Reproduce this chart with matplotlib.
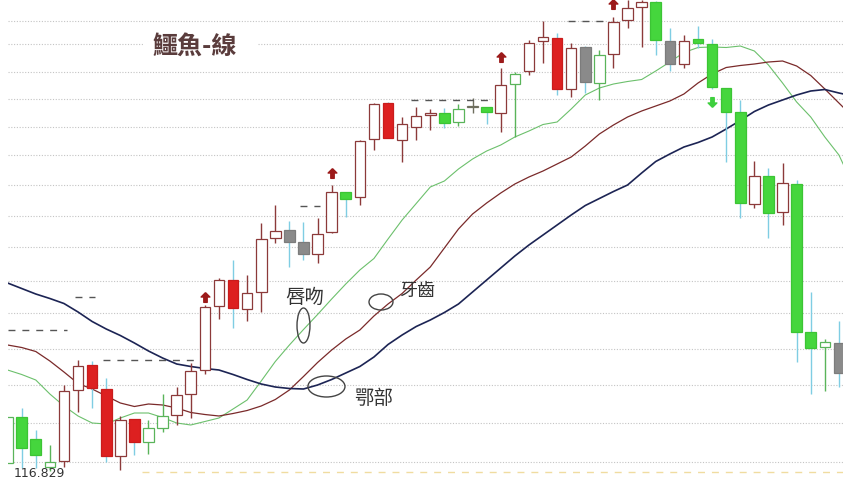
import matplotlib
matplotlib.use("Agg")
import matplotlib.pyplot as plt
import numpy as np
from matplotlib.patches import Ellipse, Rectangle
from matplotlib.path import Path

plt.rcParams['font.family'] = ['Noto Sans CJK TC', 'DejaVu Sans']

# --- candle data (price), one entry per bar ---
opens = [117.63, 122.23, 120.03, 117.23, 117.83, 124.93, 127.43, 125.03, 118.33, 122.03,
         119.73, 121.13, 122.43, 124.53, 126.93, 133.33, 135.93, 133.03, 134.73, 140.13,
         140.93, 139.73, 138.53, 140.73, 144.73, 144.23, 150.03, 153.63, 149.93, 151.23,
         152.43, 152.63, 151.73, 153.23, 153.23, 152.63, 155.53, 156.83, 159.83, 160.13,
         155.03, 159.23, 155.63, 158.53, 161.93, 163.23, 163.73, 159.83, 157.53, 160.03,
         159.53, 155.13, 152.73, 143.53, 146.33, 142.73, 145.53, 130.73, 129.23, 129.63]
highs = [122.23, 123.13, 120.93, 119.43, 125.43, 127.93, 127.83, 126.13, 122.33, 122.03,
         121.93, 124.53, 125.23, 127.63, 133.43, 136.13, 137.93, 136.43, 141.63, 143.43,
         141.83, 141.73, 142.13, 145.43, 144.73, 149.93, 153.63, 153.73, 152.23, 153.23,
         153.03, 153.13, 153.53, 154.13, 153.23, 157.13, 156.73, 159.93, 161.83, 160.63,
         159.63, 159.33, 158.93, 162.23, 163.93, 163.93, 163.83, 161.13, 160.43, 161.33,
         160.03, 155.13, 153.93, 147.83, 147.13, 147.63, 145.93, 134.73, 130.03, 131.83]
lows = [117.63, 117.13, 117.13, 116.83, 117.23, 122.73, 123.13, 117.73, 116.93, 118.43,
        118.53, 120.73, 121.43, 122.13, 126.53, 132.03, 131.13, 131.83, 132.73, 139.63,
        137.23, 137.93, 137.63, 140.63, 142.23, 143.43, 148.93, 150.13, 147.73, 149.93,
        150.93, 151.13, 151.33, 152.63, 151.53, 150.73, 150.23, 156.43, 157.63, 154.43,
        154.23, 154.63, 153.93, 157.13, 161.13, 159.23, 158.43, 156.83, 157.13, 159.13,
        155.03, 147.73, 142.13, 143.13, 140.13, 141.43, 127.73, 124.53, 124.83, 125.23]
closes = [122.23, 119.13, 118.43, 117.73, 124.83, 127.33, 125.13, 118.33, 121.93, 119.73,
          121.13, 122.33, 124.43, 126.83, 133.23, 135.93, 133.13, 134.63, 140.03, 140.83,
          139.73, 138.53, 140.53, 144.73, 144.03, 149.83, 153.53, 150.13, 151.53, 152.33,
          152.63, 151.63, 153.03, 153.23, 152.73, 155.43, 156.53, 159.63, 160.23, 155.03,
          159.13, 155.73, 158.43, 161.73, 163.13, 163.73, 159.93, 157.53, 159.83, 159.63,
          155.23, 152.73, 143.63, 146.33, 142.63, 145.63, 130.73, 129.13, 129.73, 126.63]
# G/R/K = filled green/red/gray, w/g/k = hollow with red/green/gray outline
styles = ['g', 'G', 'G', 'g', 'w', 'w', 'R', 'R', 'w', 'R',
          'g', 'g', 'w', 'w', 'w', 'w', 'R', 'w', 'w', 'w',
          'K', 'K', 'w', 'w', 'G', 'w', 'w', 'R', 'w', 'w',
          'w', 'G', 'g', 'k', 'G', 'w', 'g', 'w', 'w', 'R',
          'w', 'K', 'g', 'w', 'w', 'w', 'G', 'K', 'w', 'G',
          'G', 'G', 'G', 'w', 'G', 'w', 'G', 'G', 'g', 'K']

# --- alligator lines ---
jaw = [135.63, 135.08, 134.53, 134.08, 133.58, 132.73, 131.78, 131.03, 130.38, 129.63,
       128.83, 128.13, 127.53, 127.28, 127.08, 126.93, 126.48, 125.98, 125.53, 125.23,
       125.08, 125.03, 125.43, 125.98, 126.63, 127.28, 128.23, 129.48, 130.43, 131.28,
       131.93, 132.68, 133.53, 134.73, 135.93, 137.13, 138.33, 139.43, 140.43, 141.43,
       142.43, 143.38, 144.08, 144.78, 145.43, 146.63, 147.78, 148.53, 149.23, 149.68,
       150.23, 151.03, 151.88, 152.78, 153.43, 153.93, 154.43, 154.83, 154.98, 154.63, 154.33]
teeth = [129.43, 129.18, 128.78, 127.83, 126.73, 125.58, 125.03, 124.33, 123.63, 123.28,
         123.53, 123.43, 123.13, 122.68, 122.48, 122.33, 122.58, 122.88, 123.33, 123.98,
         124.93, 126.28, 127.68, 128.93, 130.03, 130.93, 132.33, 133.53, 134.58, 135.93,
         137.23, 139.13, 141.03, 142.53, 143.63, 144.63, 145.53, 146.23, 146.83, 147.53,
         148.23, 149.33, 150.53, 151.43, 152.23, 152.83, 153.33, 153.83, 154.53, 155.63,
         156.53, 157.18, 157.38, 157.53, 157.73, 157.83, 157.33, 156.38, 155.03, 153.63, 152.23]
lips = [126.93, 126.48, 125.93, 124.53, 123.33, 122.33, 121.63, 121.53, 122.13, 122.63,
        122.63, 122.18, 121.63, 121.43, 121.78, 122.13, 123.03, 123.93, 125.83, 127.78,
        129.43, 130.98, 132.48, 134.03, 135.53, 136.93, 138.08, 140.03, 141.93, 143.58,
        145.23, 145.83, 147.03, 148.03, 148.83, 149.43, 150.23, 150.83, 151.48, 151.73,
        153.03, 154.43, 155.13, 155.53, 155.78, 155.98, 156.83, 157.73, 158.68, 159.18,
        159.23, 159.18, 159.33, 158.83, 157.43, 155.63, 153.73, 152.23, 150.23, 148.43, 145.43]

grid_levels = [117.73, 121.63, 125.43, 129.03, 132.63, 135.83, 139.23, 142.33,
               145.43, 148.43, 151.23, 154.03, 156.73, 159.53, 161.83]

# fractal arrows
up_idx = [14, 23, 35, 43]
up_price = [134.28, 146.58, 158.18, 163.53]
down_idx = [50]
down_price = [153.73]

# short dashed fractal levels (price, from bar, to bar)
level_price = [134.23, 130.93, 127.93, 143.33, 153.93, 161.83]
level_start = [4.78, 0.05, 6.77, 20.75, 28.6, 39.8]
level_end = [6.20, 4.22, 13.44, 22.17, 34.1, 42.5]
low_label = "116.829"

face = {'G': '#45d63d', 'R': '#dd2020', 'K': '#8a8a8a', 'w': 'white', 'g': 'white', 'k': 'white'}
edge = {'G': '#3cc435', 'R': '#c91c1c', 'K': '#7c7c7c', 'w': '#8c3a3a', 'g': '#5ab45a', 'k': '#6e6e5e'}
wick = {'G': '#7fcde3', 'R': '#7fcde3', 'K': '#7fcde3', 'w': '#8c3a3a', 'g': '#5ab45a', 'k': '#6e6e5e'}

fig = plt.figure(figsize=(8.58, 4.82), dpi=100)
ax = fig.add_axes([8.3 / 858, 0, 834.7 / 858, 1])
ax.set_xlim(0.05, 59.29)
ax.set_ylim(115.73, 163.93)

# dotted grid
for g in grid_levels:
    ax.axhline(g, color='#c4c4c4', lw=0.8, ls=(0, (1, 1.5)), zorder=0)
ax.axhline(116.73, xmin=0.16, color='#f0dca0', lw=1, ls=(0, (5, 5)), zorder=0)

x = np.arange(len(opens))
xl = np.arange(len(jaw))
ax.plot(xl, lips, color='#6cc06c', lw=0.8, zorder=1)
ax.plot(xl, teeth, color='#7a2a2a', lw=0.9, zorder=1)
ax.plot(xl, jaw, color='#1c2454', lw=1.2, zorder=1)

ax.vlines(x, lows, highs, colors=[wick[s] for s in styles], lw=1, zorder=2)
o = np.array(opens)
c = np.array(closes)
bottoms = np.minimum(o, c)
heights = np.maximum(np.abs(c - o), 0.12)
ax.bar(x, heights, bottom=bottoms, width=0.75,
       color=[face[s] for s in styles], edgecolor=[edge[s] for s in styles],
       linewidth=0.9, zorder=3)

for p, a, b in zip(level_price, level_start, level_end):
    ax.plot([a, b], [p, p], color='#555555', lw=1, ls=(0, (5, 5)), zorder=2)

arrow = Path([(0, 1), (0.9, 0.1), (0.35, 0.1), (0.35, -1), (-0.35, -1),
              (-0.35, 0.1), (-0.9, 0.1), (0, 1)])
arrow_dn = Path([(vx, -vy) for vx, vy in arrow.vertices])
ax.plot(up_idx, up_price, ls='none', marker=arrow, ms=7, color='#9c1a1a', zorder=4)
ax.plot(down_idx, down_price, ls='none', marker=arrow_dn, ms=7, color='#3ecf3e', zorder=4)

# title with white box over the grid
ax.add_patch(Rectangle((9.6, 157.73), 8.1, 3.0, facecolor='white', edgecolor='none', zorder=5))
ax.text(13.3, 159.23, '鱷魚-線', fontsize=18, fontweight='bold', color='#5a3c3c',
        ha='center', va='center', zorder=6)

ax.text(21.11, 134.23, '唇吻', fontsize=14, color='#333333', ha='center', va='center', zorder=6)
ax.text(29.06, 134.83, '牙齒', fontsize=13, color='#333333', ha='center', va='center', zorder=6)
ax.text(26.0, 124.13, '鄂部', fontsize=14, color='#333333', ha='center', va='center', zorder=6)
for cx, cy, w, h in [(21.0, 131.38, 0.92, 3.5), (26.5, 133.73, 1.70, 1.6), (22.63, 125.28, 2.63, 2.1)]:
    ax.add_patch(Ellipse((cx, cy), w, h, facecolor='none', edgecolor='#444444', lw=1, zorder=6))

ax.text(2.23, 116.55, low_label, fontsize=9, color='#333333', family='DejaVu Sans',
        ha='center', va='center', clip_on=False, zorder=6)

ax.set_xticks([])
ax.set_yticks([])
for s in ax.spines.values():
    s.set_visible(False)

fig.savefig('out.png', dpi=100)
